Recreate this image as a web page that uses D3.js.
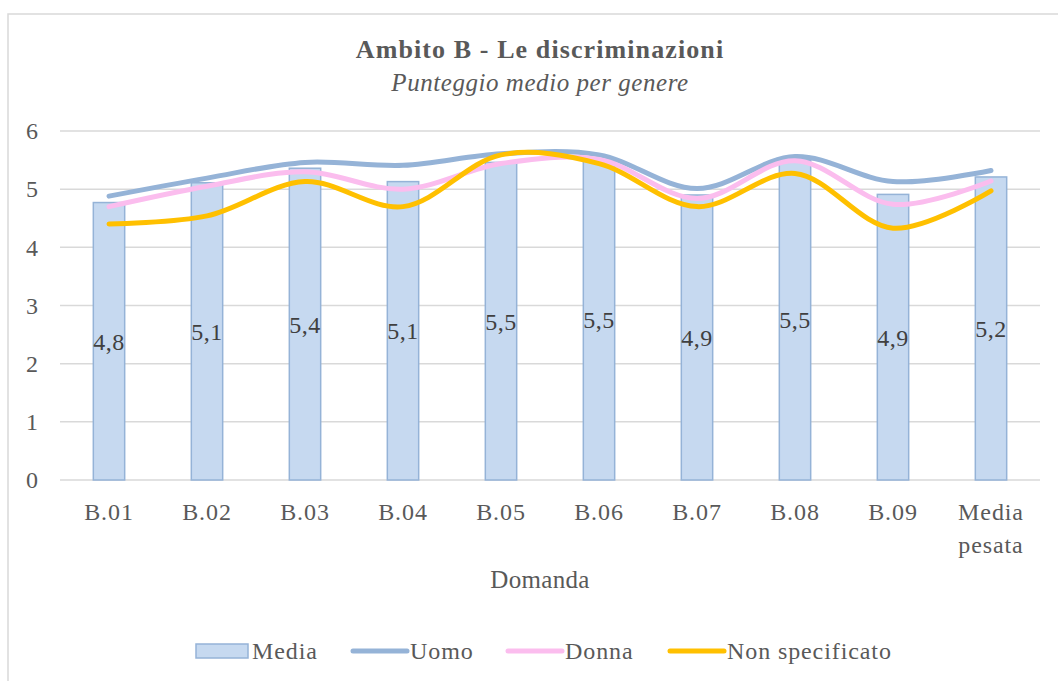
<!DOCTYPE html>
<html lang="it">
<head>
  <meta charset="utf-8">
  <title>Ambito B - Le discriminazioni</title>
  <script src="https://d3js.org/d3.v7.min.js"></script>
  <style>
    body { margin: 0; background: #fff; }
    svg text { font-family: "Palatino Linotype", "Book Antiqua", Palatino, "Liberation Serif", serif; fill: #595959; }
  </style>
</head>
<body>
  <div id="chart"></div>

  <script>
    "use strict"

    // dati
    var domande = ["B.01", "B.02", "B.03", "B.04", "B.05", "B.06", "B.07", "B.08", "B.09", "Media pesata"];
    var media = [4.77, 5.11, 5.36, 5.13, 5.46, 5.5, 4.9, 5.5, 4.91, 5.21];
    var uomo = [4.88, 5.19, 5.46, 5.41, 5.61, 5.59, 5.01, 5.56, 5.13, 5.32];
    var donna = [4.70, 5.05, 5.30, 5.00, 5.44, 5.51, 4.84, 5.49, 4.74, 5.14];
    var nonSpecificato = [4.40, 4.54, 5.13, 4.70, 5.59, 5.44, 4.70, 5.27, 4.33, 4.97];
    var tickY = [0, 1, 2, 3, 4, 5, 6];

    var larguraSVG = 1058, alturaSVG = 681;
    var margin = {top: 131, right: 18, bottom: 201, left: 60};
    var larguraVis = larguraSVG - margin.left - margin.right,
        alturaVis = alturaSVG - margin.top - margin.bottom;

    var svg = d3.select("#chart").append("svg")
        .attr("width", larguraSVG)
        .attr("height", alturaSVG);

    // bordo del grafico
    svg.append("rect")
        .attr("x", 8).attr("y", 14)
        .attr("width", 1100).attr("height", 720)
        .style("fill", "none").style("stroke", "#d9d9d9").style("stroke-width", 1.5);

    svg.append("text")
        .attr("x", 540).attr("y", 58)
        .attr("text-anchor", "middle")
        .style("font-size", "26px").style("font-weight", "bold").style("letter-spacing", "1.1px")
        .text("Ambito B - Le discriminazioni");

    svg.append("text")
        .attr("x", 540).attr("y", 91)
        .attr("text-anchor", "middle")
        .style("font-size", "25px").style("font-style", "italic").style("letter-spacing", "0.55px")
        .text("Punteggio medio per genere");

    var grafico = svg.append("g")
        .attr("transform", "translate(" + margin.left + "," + margin.top + ")");

    var x = d3.scaleBand().domain(domande).range([0, larguraVis]).paddingInner(0.68).paddingOuter(0.34);
    var y = d3.scaleLinear().domain([0, 6]).range([alturaVis, 0]);
    var xc = function(d) { return x(d) + x.bandwidth() / 2; };

    // griglia
    grafico.selectAll(".grid").data(tickY).enter().append("line")
        .attr("x1", 0).attr("x2", larguraVis)
        .attr("y1", function(d) { return y(d); }).attr("y2", function(d) { return y(d); })
        .style("stroke", "#d9d9d9").style("stroke-width", 1.5);

    // asse y
    var eixoY = grafico.append("g").call(d3.axisLeft(y).tickValues(tickY).tickFormat(d3.format("d")).tickSize(0).tickPadding(22));
    eixoY.select(".domain").remove();
    eixoY.selectAll("text").style("font-size", "24px").style("fill", "#595959")
        .style("font-family", "'Palatino Linotype', 'Liberation Serif', serif");

    // barre
    grafico.selectAll(".bar").data(domande).enter().append("rect")
        .attr("x", function(d) { return x(d); })
        .attr("y", function(d, i) { return y(media[i]); })
        .attr("width", x.bandwidth())
        .attr("height", function(d, i) { return alturaVis - y(media[i]); })
        .style("fill", "#c6d9f0").style("stroke", "#95b3d7").style("stroke-width", 1.5);

    // asse x
    var eixoX = grafico.append("g")
        .attr("transform", "translate(0," + alturaVis + ")")
        .call(d3.axisBottom(x).tickSize(0).tickFormat(""));
    eixoX.select(".domain").remove();

    var etichette = grafico.selectAll(".xlab").data(domande).enter().append("text")
        .attr("x", xc)
        .attr("y", alturaVis + 40)
        .attr("text-anchor", "middle")
        .style("font-size", "24px").style("letter-spacing", "0.9px");
    etichette.each(function(d) {
      var parole = d === "Media pesata" ? ["Media", "pesata"] : [d];
      var t = d3.select(this);
      parole.forEach(function(p, k) {
        t.append("tspan").attr("x", xc(d)).attr("dy", k === 0 ? 0 : 33).text(p);
      });
    });

    svg.append("text")
        .attr("x", 540).attr("y", 588)
        .attr("text-anchor", "middle")
        .style("font-size", "25px").style("letter-spacing", "0.3px")
        .text("Domanda");

    // linee lisce
    var serie = [
      {nome: "Uomo", valori: uomo, colore: "#95b3d7"},
      {nome: "Donna", valori: donna, colore: "#fbbdee"},
      {nome: "Non specificato", valori: nonSpecificato, colore: "#ffc000"}
    ];

    var linha = d3.line()
        .x(function(d, i) { return xc(domande[i]); })
        .y(function(d) { return y(d); })
        .curve(d3.curveCatmullRom.alpha(0.5));

    serie.forEach(function(s) {
      grafico.append("path")
          .attr("d", linha(s.valori))
          .style("fill", "none").style("stroke", s.colore)
          .style("stroke-width", 5).style("stroke-linecap", "round");
    });

    // etichette dati
    grafico.selectAll(".lab").data(domande).enter().append("text")
        .attr("x", xc)
        .attr("y", function(d, i) { return (y(media[i]) + alturaVis) / 2; })
        .attr("dy", "0.35em")
        .attr("text-anchor", "middle")
        .style("font-size", "24px").style("fill", "#404040").style("letter-spacing", "0.5px")
        .text(function(d, i) { return d3.format(".1f")(media[i]).replace(".", ","); });

    // legenda
    var leg = svg.append("g").attr("transform", "translate(0,651)");
    leg.append("rect").attr("x", 196).attr("y", -7).attr("width", 52).attr("height", 14)
        .style("fill", "#c6d9f0").style("stroke", "#95b3d7").style("stroke-width", 1.5);
    leg.append("text").attr("x", 252).attr("y", 0).attr("dy", "0.35em")
        .style("font-size", "24px").style("letter-spacing", "0.9px").text("Media");
    var posLeg = [353, 508, 670];
    serie.forEach(function(s, i) {
      leg.append("line").attr("x1", posLeg[i]).attr("x2", posLeg[i] + 54).attr("y1", 0).attr("y2", 0)
          .style("stroke", s.colore).style("stroke-width", 5).style("stroke-linecap", "round");
      leg.append("text").attr("x", posLeg[i] + 57).attr("y", 0).attr("dy", "0.35em")
          .style("font-size", "24px").style("letter-spacing", "0.9px").text(s.nome);
    });
  </script>
</body>
</html>
